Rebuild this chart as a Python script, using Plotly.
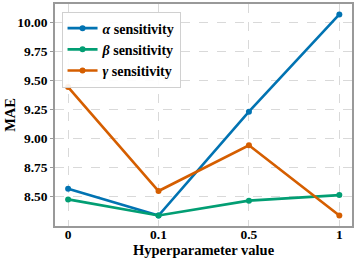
import plotly.graph_objects as go

categories = ["0", "0.1", "0.5", "1"]
alpha_vals = [8.566, 8.335, 9.229, 10.065]
beta_vals = [8.474, 8.336, 8.463, 8.511]
gamma_vals = [9.44, 8.546, 8.94, 8.336]
series = [
    ("<b><i>α</i> sensitivity</b>", alpha_vals, "#0173B2"),
    ("<b><i>β</i> sensitivity</b>", beta_vals, "#029E73"),
    ("<b><i>γ</i> sensitivity</b>", gamma_vals, "#D55E00"),
]
yticks = [8.5, 8.75, 9.0, 9.25, 9.5, 9.75, 10.0]

fig = go.Figure()
xs = list(range(len(categories)))
for name, vals, color in series:
    fig.add_trace(go.Scatter(
        x=xs, y=vals, name=name, mode="lines+markers",
        line=dict(color=color, width=2.6),
        marker=dict(color=color, size=6),
    ))

font_family = "Liberation Serif, Times New Roman, serif"
fig.update_layout(
    width=357, height=263,
    margin=dict(l=55, r=5, t=4, b=37),
    paper_bgcolor="white", plot_bgcolor="white",
    font=dict(family=font_family, size=13, color="black"),
    showlegend=True,
    legend=dict(
        x=0.022, y=0.966, xanchor="left", yanchor="top",
        bgcolor="rgba(255,255,255,0.9)", bordercolor="#d0d0d0", borderwidth=1,
        font=dict(family=font_family, size=14, color="black"),
        tracegroupgap=0, itemwidth=30,
    ),
    annotations=[
        dict(text="<b>Hyperparameter value</b>", xref="paper", yref="paper",
             x=0.5, y=-0.106, xanchor="center", yanchor="middle", showarrow=False,
             font=dict(size=14.5, family=font_family)),
        dict(text="<b>MAE</b>", xref="paper", yref="paper", textangle=-90,
             x=-0.152, y=0.5, xanchor="center", yanchor="middle", showarrow=False,
             font=dict(size=14.5, family=font_family)),
    ],
)
fig.update_xaxes(
    tickmode="array", tickvals=xs, ticktext=[f"<b>{c}</b>" for c in categories],
    range=[-0.145, 3.14],
    showgrid=True, gridcolor="#d9d9d9", griddash="dash", gridwidth=1,
    showline=True, linecolor="#999999", linewidth=1.5, mirror=True,
    ticks="", zeroline=False, automargin=False, ticklabelstandoff=-5,
    tickfont=dict(size=13.5),
)
fig.update_yaxes(
    tickmode="array", tickvals=yticks, ticktext=[f"<b>{v:.2f}</b>" for v in yticks],
    range=[8.245, 10.155],
    showgrid=True, gridcolor="#d9d9d9", griddash="dash", gridwidth=1,
    showline=True, linecolor="#999999", linewidth=1.5, mirror=True,
    ticks="outside", ticklen=3, tickcolor="#999999",
    zeroline=False, automargin=False,
    tickfont=dict(size=13.5),
)

fig.write_html("out.html", config={"displayModeBar": False},
               post_script="document.body.style.margin='0';document.body.style.overflow='hidden';")
